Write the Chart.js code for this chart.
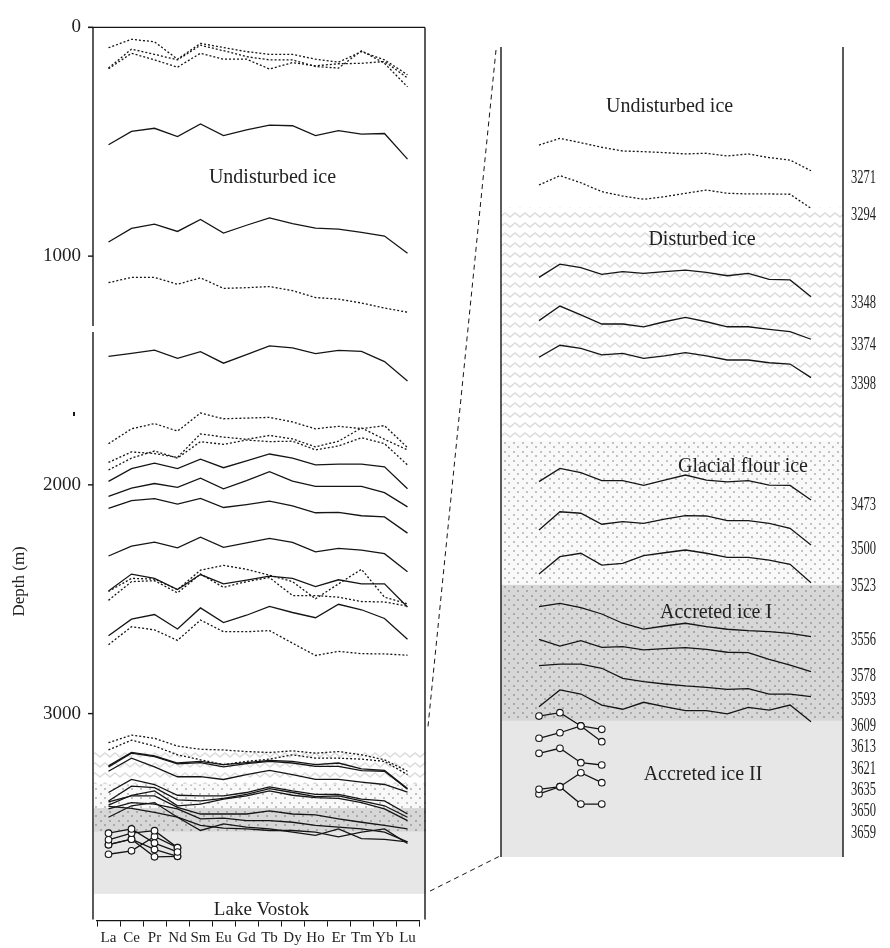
<!DOCTYPE html>
<html>
<head>
<meta charset="utf-8">
<script src="https://cdn.jsdelivr.net/npm/chart.js@4.4.0/dist/chart.umd.min.js"></script>
<style>
  body { margin: 0; background: #fff; }
  #wrap { position: relative; width: 890px; height: 948px; }
  canvas { position: absolute; top: 0; }
</style>
</head>
<body>
<div id="wrap">
  <canvas id="leftChart" width="470" height="948" style="left:0"></canvas>
  <canvas id="rightChart" width="450" height="948" style="left:440px"></canvas>
  <canvas id="links" width="890" height="948" style="left:0;pointer-events:none"></canvas>
</div>
<script>
// --- DATA ---
const elements = ['La', 'Ce', 'Pr', 'Nd', 'Sm', 'Eu', 'Gd', 'Tb', 'Dy', 'Ho', 'Er', 'Tm', 'Yb', 'Lu'];
const depthTicks = [0, 1000, 2000, 3000];
const zoneNames = ['Undisturbed ice', 'Disturbed ice', 'Glacial flour ice', 'Accreted ice I', 'Accreted ice II'];

// zone limits (m): disturbed top, flour top, accreted I top, accreted II top, accreted II bottom
const leftZones = [3167, 3310, 3413, 3517, 3788];
const rightZones = [3289, 3433, 3522, 3606, 3690];

// sample labels on the right panel
const sampleDepths = ['3271', '3294', '3348', '3374', '3398', '3473', '3500', '3523', '3556',
                      '3578', '3593', '3609', '3613', '3621', '3635', '3650', '3659'];

// left panel profiles (plotted depth, m)
const upDot1 = [89, 52, 63, 139, 70, 88, 106, 118, 118, 139, 152, 106, 142, 207];
const upDot2 = [178, 95, 118, 142, 78, 102, 128, 142, 142, 171, 178, 102, 157, 260];
const upDot3 = [181, 113, 142, 174, 113, 139, 139, 182, 154, 168, 159, 157, 149, 221];
const solid500 = [513, 455, 441, 477, 422, 473, 448, 427, 430, 473, 451, 467, 464, 576];
const solid900 = [938, 879, 860, 892, 840, 899, 865, 833, 858, 878, 882, 896, 912, 987];
const dot1150 = [1116, 1093, 1093, 1123, 1095, 1141, 1138, 1133, 1151, 1181, 1188, 1205, 1227, 1245];
const solid1450 = [1438, 1425, 1411, 1447, 1418, 1468, 1431, 1392, 1401, 1426, 1412, 1416, 1461, 1546];
const dot1800a = [1820, 1755, 1732, 1765, 1686, 1711, 1708, 1705, 1725, 1755, 1744, 1754, 1741, 1837];
const dot1800b = [1902, 1856, 1863, 1880, 1777, 1791, 1801, 1784, 1799, 1834, 1809, 1751, 1801, 1847];
const dot1800c = [1935, 1883, 1852, 1883, 1811, 1823, 1804, 1811, 1809, 1847, 1830, 1794, 1820, 1913];
const solid1950 = [1985, 1929, 1905, 1929, 1888, 1925, 1895, 1865, 1883, 1913, 1909, 1909, 1921, 2017];
const solid2050 = [2050, 2014, 1994, 2011, 1971, 2017, 1981, 1942, 1984, 2007, 2007, 2007, 2034, 2096];
const solid2100 = [2103, 2069, 2060, 2084, 2059, 2099, 2086, 2071, 2092, 2122, 2120, 2135, 2140, 2211];
const solid2300 = [2311, 2268, 2250, 2275, 2229, 2273, 2254, 2234, 2251, 2293, 2278, 2285, 2301, 2380];
const solid2450 = [2464, 2390, 2409, 2458, 2392, 2433, 2416, 2399, 2409, 2445, 2415, 2433, 2433, 2534];
const dot2450a = [2466, 2409, 2412, 2458, 2373, 2352, 2369, 2395, 2423, 2498, 2433, 2369, 2491, 2520];
const dot2450b = [2505, 2423, 2419, 2472, 2390, 2448, 2423, 2405, 2484, 2484, 2491, 2510, 2512, 2530];
const solid2600 = [2660, 2587, 2567, 2630, 2538, 2602, 2570, 2531, 2558, 2581, 2522, 2546, 2584, 2675];
const dot2650 = [2699, 2620, 2634, 2680, 2591, 2642, 2642, 2637, 2692, 2746, 2728, 2738, 2739, 2745];
const lowDot1 = [3127, 3094, 3108, 3142, 3156, 3159, 3166, 3170, 3163, 3173, 3166, 3180, 3202, 3252];
const lowDot2 = [3159, 3116, 3142, 3180, 3202, 3223, 3209, 3199, 3180, 3195, 3195, 3199, 3209, 3267];
const dist1 = [3228, 3170, 3185, 3216, 3209, 3223, 3214, 3205, 3209, 3223, 3216, 3242, 3248, 3328];
const dist2 = [3233, 3173, 3188, 3220, 3214, 3233, 3219, 3209, 3216, 3231, 3231, 3249, 3252, 3331];
const dist3 = [3252, 3195, 3233, 3276, 3276, 3288, 3267, 3248, 3267, 3288, 3288, 3300, 3310, 3343];
const flour1 = [3345, 3288, 3310, 3357, 3360, 3360, 3345, 3320, 3338, 3353, 3353, 3374, 3382, 3439];
const flour2 = [3382, 3317, 3324, 3377, 3382, 3371, 3353, 3328, 3345, 3363, 3360, 3382, 3403, 3453];
const flour3 = [3400, 3357, 3338, 3403, 3396, 3374, 3360, 3338, 3357, 3367, 3371, 3389, 3417, 3468];
const accr1 = [3386, 3360, 3360, 3410, 3439, 3439, 3439, 3425, 3439, 3443, 3460, 3475, 3489, 3504];
const accr2 = [3417, 3389, 3396, 3417, 3460, 3457, 3468, 3468, 3475, 3489, 3496, 3504, 3518, 3561];
const accr3 = [3406, 3414, 3432, 3453, 3489, 3501, 3504, 3511, 3511, 3518, 3539, 3518, 3504, 3568];
const accr4 = [3453, 3403, 3389, 3453, 3511, 3482, 3496, 3504, 3518, 3532, 3504, 3547, 3550, 3561];
const ac2a = [3523, 3504, 3566, 3605];
const ac2b = [3552, 3523, 3512, 3586];
const ac2c = [3573, 3549, 3594, 3624];
const ac2d = [3615, 3600, 3537, 3586];
const ac2e = [3573, 3549, 3626, 3624];

// right panel profiles (plotted depth, m)
const rU1 = [3250.5, 3246.4, 3249.1, 3251.9, 3254.2, 3254.6, 3255.2, 3256.0, 3255.6, 3257.3, 3256.0, 3258.3, 3259.8, 3266.4];
const rU2 = [3275.2, 3269.4, 3273.8, 3279.3, 3282.0, 3284.0, 3282.4, 3280.3, 3278.3, 3280.3, 3280.7, 3280.7, 3280.9, 3289.6];
const rD1 = [3332.2, 3324.0, 3326.2, 3330.3, 3328.7, 3329.7, 3328.7, 3327.7, 3329.1, 3331.2, 3329.7, 3333.4, 3333.8, 3344.1];
const rD2 = [3358.9, 3349.9, 3355.4, 3361.0, 3361.0, 3362.7, 3359.6, 3356.9, 3359.6, 3362.7, 3362.7, 3364.3, 3365.7, 3370.4];
const rD3 = [3381.5, 3374.1, 3376.0, 3380.1, 3379.1, 3382.2, 3380.6, 3378.7, 3380.6, 3383.2, 3383.2, 3384.9, 3385.7, 3394.1];
const rG1 = [3458.3, 3450.1, 3452.8, 3457.7, 3457.7, 3460.6, 3457.3, 3454.2, 3457.3, 3458.5, 3457.7, 3460.4, 3460.6, 3469.6];
const rG2 = [3488.1, 3476.9, 3477.8, 3484.6, 3483.0, 3484.0, 3481.5, 3479.3, 3479.5, 3482.4, 3482.4, 3484.0, 3487.1, 3497.4];
const rG3 = [3515.3, 3504.6, 3502.5, 3509.8, 3508.7, 3504.0, 3502.2, 3500.5, 3502.5, 3505.0, 3505.0, 3506.7, 3509.3, 3520.7];
const rA1 = [3535.5, 3533.4, 3536.1, 3540.0, 3545.7, 3549.3, 3547.4, 3545.7, 3547.8, 3549.4, 3550.3, 3550.9, 3551.9, 3554.0];
const rA2 = [3555.6, 3559.8, 3556.5, 3560.6, 3560.2, 3562.2, 3561.4, 3560.8, 3561.8, 3563.6, 3563.9, 3568.0, 3571.5, 3575.6];
const rA3 = [3571.9, 3570.9, 3571.0, 3573.5, 3579.7, 3581.8, 3583.2, 3584.4, 3585.3, 3586.5, 3586.1, 3589.4, 3589.4, 3591.0];
const rA4 = [3597.2, 3586.9, 3589.4, 3596.2, 3598.8, 3594.5, 3597.2, 3599.7, 3599.7, 3601.7, 3597.6, 3599.3, 3596.2, 3606.5];
const rC1 = [3603.0, 3600.9, 3609.1, 3618.8];
const rC2 = [3616.7, 3613.3, 3609.1, 3611.2];
const rC3 = [3626.0, 3622.9, 3631.8, 3633.2];
const rC4 = [3648.2, 3646.6, 3638.0, 3644.1];
const rC5 = [3651.1, 3646.6, 3657.3, 3657.3];

// depth range shown in the right panel, and where the zoom lines leave the left panel
const rightRange = [3190, 3690];
const linkDepths = [3056, 3776];

const leftSeries = [
    [upDot1, 'dot'], [upDot2, 'dot'], [upDot3, 'dot'], [solid500, 'line'], [solid900, 'line'],
    [dot1150, 'dot'], [solid1450, 'line'], [dot1800a, 'dot'], [dot1800b, 'dot'], [dot1800c, 'dot'],
    [solid1950, 'line'], [solid2050, 'line'], [solid2100, 'line'], [solid2300, 'line'],
    [solid2450, 'line'], [dot2450a, 'dot'], [dot2450b, 'dot'], [solid2600, 'line'], [dot2650, 'dot'],
    [lowDot1, 'dot'], [lowDot2, 'dot'], [dist1, 'line'], [dist2, 'line'], [dist3, 'line'],
    [flour1, 'line'], [flour2, 'line'], [flour3, 'line'],
    [accr1, 'line'], [accr2, 'line'], [accr3, 'line'], [accr4, 'line'],
    [ac2a, 'circle'], [ac2b, 'circle'], [ac2c, 'circle'], [ac2d, 'circle'], [ac2e, 'circle']
];
const rightSeries = [
    [rU1, 'dot'], [rU2, 'dot'], [rD1, 'line'], [rD2, 'line'], [rD3, 'line'],
    [rG1, 'line'], [rG2, 'line'], [rG3, 'line'],
    [rA1, 'line'], [rA2, 'line'], [rA3, 'line'], [rA4, 'line'],
    [rC1, 'circle'], [rC2, 'circle'], [rC3, 'circle'], [rC4, 'circle'], [rC5, 'circle']
];

// --- STYLE ---
const SERIF = '"Liberation Serif", "Times New Roman", serif';
const INK = '#151515';
Chart.defaults.font.family = SERIF;
Chart.defaults.color = '#222';

function styleFor(kind) {
    const s = { borderColor: INK, borderWidth: 1.3, pointRadius: 0, tension: 0, fill: false };
    if (kind === 'dot') s.borderDash = [2, 2];
    if (kind === 'circle') {
        s.pointRadius = 3.3;
        s.pointBackgroundColor = '#fff';
        s.pointBorderColor = INK;
        s.pointBorderWidth = 1.1;
    }
    return s;
}

// zone fills
function makePattern(kind) {
    const c = document.createElement('canvas');
    const g = c.getContext('2d');
    if (kind === 'wavy') {
        c.width = 10; c.height = 10;
        g.fillStyle = '#fff'; g.fillRect(0, 0, 10, 10);
        g.strokeStyle = '#dcdcdc'; g.lineWidth = 1.5;
        g.beginPath(); g.moveTo(-5, 3); g.lineTo(0, 7); g.lineTo(5, 3); g.lineTo(10, 7); g.lineTo(15, 3); g.stroke();
    } else {
        const dark = kind === 'accreted';
        c.width = 9; c.height = 9;
        g.fillStyle = dark ? '#d7d7d7' : '#f9f9f9'; g.fillRect(0, 0, 9, 9);
        g.fillStyle = dark ? '#a9a9a9' : '#c2c2c2';
        g.fillRect(1, 1, 2, 2); g.fillRect(5, 5, 2, 2);
    }
    return g.createPattern(c, 'repeat');
}
const zoneFills = [makePattern('wavy'), makePattern('flour'), makePattern('accreted'), '#e6e7e6'];

function drawZones(ctx, yScale, zones, x0, x1) {
    for (let i = 0; i < zones.length - 1; i++) {
        const top = yScale.getPixelForValue(zones[i]);
        const bot = yScale.getPixelForValue(zones[i + 1]);
        ctx.fillStyle = zoneFills[i];
        ctx.fillRect(x0, top, x1 - x0, bot - top);
    }
}

function line(ctx, x0, y0, x1, y1) {
    ctx.beginPath(); ctx.moveTo(x0, y0); ctx.lineTo(x1, y1); ctx.stroke();
}

// --- LEFT PANEL ---
const leftDecor = {
    id: 'leftDecor',
    beforeDatasetsDraw(chart) {
        const { ctx, chartArea: a, scales } = chart;
        ctx.save();
        drawZones(ctx, scales.y, leftZones, a.left - 3, a.right + 7);
        ctx.restore();
    },
    afterDatasetsDraw(chart) {
        const { ctx, chartArea: a, scales: { x, y } } = chart;
        const fl = a.left - 4, fr = a.right + 6;
        ctx.save();
        ctx.strokeStyle = INK;
        ctx.lineWidth = 1.4;
        // frame with the break in the depth axis
        line(ctx, fl - 5, a.top, fr, a.top);
        line(ctx, fl, a.top, fl, y.getPixelForValue(1306));
        line(ctx, fl, y.getPixelForValue(1332), fl, a.bottom - 1);
        line(ctx, fr, a.top, fr, a.bottom - 1);
        depthTicks.forEach(v => {
            const py = y.getPixelForValue(v);
            line(ctx, fl - 5, py, fl, py);
        });
        ctx.fillStyle = INK;
        ctx.fillRect(fl - 20, y.getPixelForValue(1690) - 2, 2, 4);

        ctx.fillStyle = '#222';
        ctx.textAlign = 'center';
        ctx.textBaseline = 'middle';
        ctx.font = '20px ' + SERIF;
        ctx.fillText(zoneNames[0], x.getPixelForValue(7.13), y.getPixelForValue(659));
        ctx.font = '19px ' + SERIF;
        ctx.fillText('Lake Vostok', x.getPixelForValue(6.65), y.getPixelForValue(3857));

        ctx.translate(20, y.getPixelForValue(2422));
        ctx.rotate(-Math.PI / 2);
        ctx.font = '17px ' + SERIF;
        ctx.fillText('Depth (m)', 0, 0);
        ctx.restore();
    }
};

const leftChart = new Chart(document.getElementById('leftChart'), {
    type: 'line',
    data: {
        labels: elements,
        datasets: leftSeries.map(([vals, kind]) => Object.assign({ data: vals }, styleFor(kind)))
    },
    options: {
        responsive: false,
        animation: false,
        events: [],
        layout: { padding: { top: 17, right: 51, bottom: 0, left: 0 } },
        plugins: { legend: { display: false }, tooltip: { enabled: false } },
        scales: {
            x: {
                type: 'category',
                offset: true,
                grid: { display: true, drawOnChartArea: false, drawTicks: true, tickLength: 6, offset: true, color: INK, lineWidth: 1 },
                border: { display: true, color: INK, width: 1.3 },
                ticks: { font: { size: 15 }, color: '#222', padding: 2, autoSkip: false, maxRotation: 0 },
                afterFit: s => { s.height = 25; }
            },
            y: {
                type: 'linear',
                reverse: true,
                min: 0,
                max: 3905,
                afterBuildTicks: s => { s.ticks = depthTicks.map(v => ({ value: v })); },
                grid: { display: false, drawTicks: false },
                border: { display: false },
                ticks: { font: { size: 19 }, color: '#222', padding: 16, callback: v => String(v) },
                afterFit: s => { s.width = 97; }
            }
        }
    },
    plugins: [leftDecor]
});

// --- RIGHT PANEL ---
const zoneLabels = [
    [zoneNames[0], 6.24, 3227], [zoneNames[1], 7.79, 3309], [zoneNames[2], 9.75, 3449],
    [zoneNames[3], 8.46, 3539], [zoneNames[4], 7.84, 3639]
];

const rightDecor = {
    id: 'rightDecor',
    beforeDatasetsDraw(chart) {
        const { ctx, chartArea: a, scales } = chart;
        ctx.save();
        drawZones(ctx, scales.y, rightZones, a.left, a.right);
        ctx.restore();
    },
    afterDatasetsDraw(chart) {
        const { ctx, chartArea: a, scales: { x, y } } = chart;
        ctx.save();
        ctx.strokeStyle = INK;
        ctx.lineWidth = 1.4;
        line(ctx, a.left, a.top, a.left, a.bottom);
        line(ctx, a.right, a.top, a.right, a.bottom);

        ctx.fillStyle = '#222';
        ctx.textAlign = 'center';
        ctx.textBaseline = 'middle';
        ctx.font = '20px ' + SERIF;
        zoneLabels.forEach(([t, xv, yv]) => ctx.fillText(t, x.getPixelForValue(xv), y.getPixelForValue(yv)));

        // sample depths, pushed apart where they would overlap
        ctx.textAlign = 'left';
        ctx.font = '19px ' + SERIF;
        let prev = -Infinity;
        sampleDepths.forEach(s => {
            let py = y.getPixelForValue(Number(s));
            if (py < prev + 21.4) py = prev + 21.4;
            prev = py;
            ctx.save();
            ctx.translate(a.right + 8, py);
            ctx.scale(0.66, 1);
            ctx.fillText(s, 0, 0);
            ctx.restore();
        });
        ctx.restore();
    }
};

const rightChart = new Chart(document.getElementById('rightChart'), {
    type: 'line',
    data: {
        datasets: rightSeries.map(([vals, kind]) =>
            Object.assign({ data: vals.map((v, i) => ({ x: i, y: v })) }, styleFor(kind)))
    },
    options: {
        responsive: false,
        animation: false,
        events: [],
        layout: { padding: { top: 47, right: 47, bottom: 91, left: 61 } },
        plugins: { legend: { display: false }, tooltip: { enabled: false } },
        scales: {
            x: { type: 'linear', display: false, min: -1.816, max: 14.529 },
            y: { type: 'linear', display: false, reverse: true, min: rightRange[0], max: rightRange[1] }
        }
    },
    plugins: [rightDecor]
});

// --- ZOOM LINES ---
(function drawLinks() {
    const ctx = document.getElementById('links').getContext('2d');
    const la = leftChart.chartArea, ly = leftChart.scales.y;
    const ra = rightChart.chartArea, off = 440;
    ctx.strokeStyle = INK;
    ctx.lineWidth = 1;
    ctx.setLineDash([5, 4]);
    line(ctx, la.right + 9, ly.getPixelForValue(linkDepths[0]), off + ra.left - 5, ra.top + 3);
    line(ctx, la.right + 11, ly.getPixelForValue(linkDepths[1]), off + ra.left - 1, ra.bottom - 1);
})();
</script>
</body>
</html>
